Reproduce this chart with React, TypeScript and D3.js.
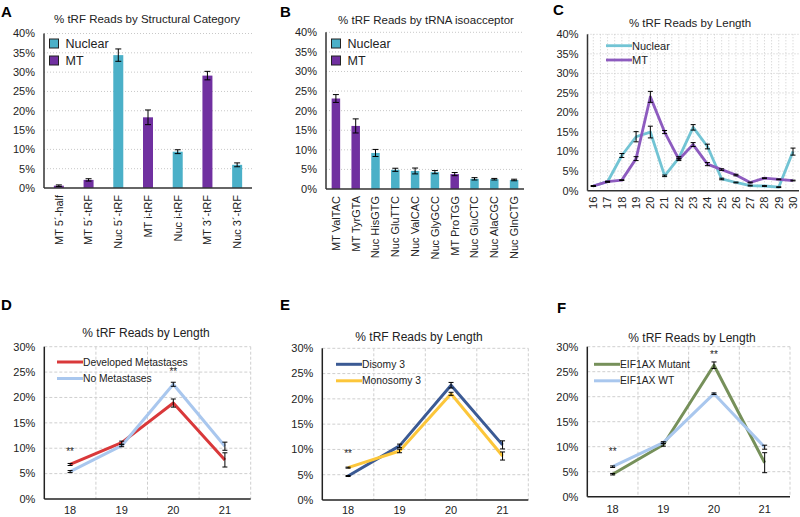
import React from "react";
import * as d3 from "d3";

// ---------- Data ----------
const catA = ["MT 5´-half", "MT 5´-tRF", "Nuc 5´-tRF", "MT i-tRF", "Nuc i-tRF", "MT 3´-tRF", "Nuc 3´-tRF"];
const typeA = ["MT", "MT", "Nuclear", "MT", "Nuclear", "MT", "Nuclear"];
const valA = [0.6, 2.1, 34.4, 18.3, 9.4, 29.1, 6.0];
const errA = [0.2, 0.3, 1.6, 1.9, 0.5, 1.1, 0.5];

const catB = ["MT ValTAC", "MT TyrGTA", "Nuc HisGTG", "Nuc GluTTC", "Nuc ValCAC", "Nuc GlyGCC", "MT ProTGG", "Nuc GluCTC", "Nuc AlaCGC", "Nuc GlnCTG"];
const typeB = ["MT", "MT", "Nuclear", "Nuclear", "Nuclear", "Nuclear", "MT", "Nuclear", "Nuclear", "Nuclear"];
const valB = [23.1, 16.1, 9.2, 4.9, 4.6, 4.3, 3.8, 2.6, 2.5, 2.3];
const errB = [1.0, 1.8, 0.9, 0.4, 0.75, 0.4, 0.4, 0.3, 0.2, 0.2];

const lenC = [16, 17, 18, 19, 20, 21, 22, 23, 24, 25, 26, 27, 28, 29, 30];
const nucC = [1.2, 2.3, 9.0, 13.8, 15.0, 3.8, 8.4, 16.2, 11.3, 3.0, 2.1, 1.3, 1.2, 0.9, 10.0];
const nucErrC = [0.1, 0.1, 0.5, 1.3, 1.5, 0.2, 0.3, 0.7, 0.6, 0.2, 0.1, 0.1, 0.1, 0.1, 0.9];
const mtC = [1.2, 2.3, 2.7, 8.2, 24.0, 15.0, 8.0, 11.8, 6.8, 5.4, 4.0, 2.1, 3.2, 2.9, 2.6];
const mtErrC = [0.1, 0.1, 0.1, 0.5, 1.4, 0.4, 0.3, 0.5, 0.4, 0.2, 0.2, 0.1, 0.1, 0.1, 0.1];

const lenDEF = [18, 19, 20, 21];
const metD = [6.8, 11.1, 18.9, 7.7];
const metErrD = [0.2, 0.3, 0.8, 1.4];
const noMetD = [5.4, 10.5, 22.6, 10.4];
const noMetErrD = [0.2, 0.2, 0.4, 0.8];

const disomyE = [4.75, 10.7, 22.7, 10.9];
const disomyErrE = [0.1, 0.35, 0.55, 0.8];
const monosomyE = [6.4, 9.7, 21.0, 8.7];
const monosomyErrE = [0.1, 0.35, 0.3, 0.8];

const mutantF = [4.5, 10.4, 26.3, 6.8];
const mutantErrF = [0.15, 0.3, 0.65, 2.0];
const wtF = [6.0, 10.8, 20.6, 9.9];
const wtErrF = [0.15, 0.2, 0.15, 0.4];

const ticks40 = [0, 5, 10, 15, 20, 25, 30, 35, 40];
const ticks30 = [0, 5, 10, 15, 20, 25, 30];

const FONT = "'Liberation Sans', Arial, sans-serif";
const NUC = "#4bb0c8";
const MT = "#7030a0";

const ErrBar = ({ x, lo, hi, cap = 3 }: any) => (
  <g stroke="#000" strokeWidth={1}>
    <line x1={x} x2={x} y1={lo} y2={hi} />
    <line x1={x - cap} x2={x + cap} y1={lo} y2={lo} />
    <line x1={x - cap} x2={x + cap} y1={hi} y2={hi} />
  </g>
);

function BarPanel({ letter, letterX, letterY, title, titleX, titleY, x0, x1, y0, yTop, cats, types, vals, errs, barW, legX, legY }: any) {
  const x = d3.scaleBand().domain(cats).range([x0, x1]);
  const y = d3.scaleLinear().domain([0, 40]).range([y0, yTop]);
  return (
    <g fontFamily={FONT}>
      <text x={letterX} y={letterY} fontSize={15} fontWeight="bold">{letter}</text>
      <text x={titleX} y={titleY} fontSize={11.5} textAnchor="middle" fill="#222">{title}</text>
      {ticks40.map((t) => (
        <g key={t}>
          {t > 0 && <line x1={x0} x2={x1} y1={y(t)} y2={y(t)} stroke="#c8c8c8" strokeDasharray="1,2" />}
          <text x={x0 - 9} y={y(t)} dy="0.35em" fontSize={11} textAnchor="end" fill="#222">{t}%</text>
        </g>
      ))}
      {cats.map((c: string, i: number) => {
        const cx = (x(c) as number) + x.bandwidth() / 2;
        return (
          <g key={c}>
            <rect x={cx - barW / 2} width={barW} y={y(vals[i])} height={y0 - y(vals[i])} fill={types[i] === "MT" ? MT : NUC} />
            <ErrBar x={cx} lo={y(vals[i] - errs[i])} hi={y(vals[i] + errs[i])} cap={3} />
            <text transform={`translate(${cx},${y0 + 7}) rotate(-90)`} dy="0.35em" fontSize={11} textAnchor="end" fill="#222">{c}</text>
          </g>
        );
      })}
      <line x1={x0} x2={x0} y1={yTop} y2={y0} stroke="#333" strokeWidth={1.5} />
      <line x1={x0} x2={x1} y1={y0} y2={y0} stroke="#333" strokeWidth={1.5} />
      {["Nuclear", "MT"].map((s, i) => (
        <g key={s}>
          <rect x={legX} y={legY + i * 17} width={9} height={9} fill={s === "MT" ? MT : NUC} stroke="#222" strokeWidth={1} />
          <text x={legX + 16} y={legY + i * 17 + 4.5} dy="0.35em" fontSize={12.5} fill="#222">{s}</text>
        </g>
      ))}
    </g>
  );
}

function PanelC() {
  const x0 = 587.5, x1 = 799, y0 = 190.7, yTop = 34.3;
  const x = d3.scalePoint<number>().domain(lenC).range([593.3, 793]);
  const y = d3.scaleLinear().domain([0, 40]).range([y0, yTop]);
  const step = x.step();
  const line = d3.line<number>().x((_, i) => x(lenC[i]) as number).y((v) => y(v));
  const vgrid: number[] = [];
  for (let p = (x(16) as number); p <= x1; p += step / 2) if (p > x0 + 1) vgrid.push(p);
  const series = [
    { name: "Nuclear", vals: nucC, errs: nucErrC, color: "#72c4d4" },
    { name: "MT", vals: mtC, errs: mtErrC, color: "#8d5bbf" },
  ];
  return (
    <g fontFamily={FONT}>
      <text x={553} y={15} fontSize={15} fontWeight="bold">C</text>
      <text x={690} y={27} fontSize={11.5} textAnchor="middle" fill="#222">% tRF Reads by Length</text>
      {vgrid.map((p, i) => (
        <line key={i} x1={p} x2={p} y1={yTop} y2={y0} stroke="#cccccc" strokeDasharray="1,2" />
      ))}
      {ticks40.map((t) => (
        <g key={t}>
          {t > 0 && <line x1={x0} x2={x1} y1={y(t)} y2={y(t)} stroke="#c8c8c8" strokeDasharray="1,2" />}
          <text x={x0 - 9} y={y(t)} dy="0.35em" fontSize={11} textAnchor="end" fill="#222">{t}%</text>
        </g>
      ))}
      {series.map((s) => (
        <path key={s.name} d={line(s.vals) as string} fill="none" stroke={s.color} strokeWidth={2.8} strokeLinejoin="round" />
      ))}
      {series.map((s) =>
        s.vals.map((v, i) => (
          <ErrBar key={s.name + i} x={x(lenC[i])} lo={y(v - s.errs[i])} hi={y(v + s.errs[i])} cap={2.5} />
        ))
      )}
      {lenC.map((l) => (
        <text key={l} transform={`translate(${x(l)},${y0 + 6}) rotate(-90)`} dy="0.35em" fontSize={11} textAnchor="end" fill="#222">{l}</text>
      ))}
      <line x1={x0} x2={x0} y1={yTop} y2={y0} stroke="#333" strokeWidth={1.5} />
      <line x1={x0} x2={x1} y1={y0} y2={y0} stroke="#333" strokeWidth={1.5} />
      {series.map((s, i) => (
        <g key={s.name}>
          <line x1={606} x2={632} y1={45.7 + i * 14.3} y2={45.7 + i * 14.3} stroke={s.color} strokeWidth={2.8} />
          <text x={632} y={45.7 + i * 14.3} dy="0.35em" fontSize={11} fill="#222">{s.name}</text>
        </g>
      ))}
    </g>
  );
}

function LinePanel({ letter, letterX, letterY, titleX, titleY, x0, x1, y0, yTop, series, stars, legX, legY, labelY }: any) {
  const x = d3.scaleBand<number>().domain(lenDEF).range([x0, x1]);
  const y = d3.scaleLinear().domain([0, 30]).range([y0, yTop]);
  const cx = (l: number) => (x(l) as number) + x.bandwidth() / 2;
  const line = d3.line<number>().x((_, i) => cx(lenDEF[i])).y((v) => y(v));
  return (
    <g fontFamily={FONT}>
      <text x={letterX} y={letterY} fontSize={15} fontWeight="bold">{letter}</text>
      <text x={titleX} y={titleY} fontSize={12} textAnchor="middle" fill="#222">% tRF Reads by Length</text>
      {lenDEF.map((l) => (
        <line key={l} x1={(x(l) as number) + x.bandwidth()} x2={(x(l) as number) + x.bandwidth()} y1={yTop} y2={y0} stroke="#cfcfcf" strokeDasharray="3,2" />
      ))}
      {ticks30.map((t) => (
        <g key={t}>
          {t > 0 && <line x1={x0} x2={x1} y1={y(t)} y2={y(t)} stroke="#cfcfcf" strokeDasharray="3,2" />}
          <text x={x0 - 9} y={y(t)} dy="0.35em" fontSize={11} textAnchor="end" fill="#222">{t}%</text>
        </g>
      ))}
      {series.map((s: any) => (
        <path key={s.name} d={line(s.vals) as string} fill="none" stroke={s.color} strokeWidth={3} strokeLinejoin="round" />
      ))}
      {series.map((s: any) =>
        s.vals.map((v: number, i: number) => (
          <ErrBar key={s.name + i} x={cx(lenDEF[i])} lo={y(v - s.errs[i])} hi={y(v + s.errs[i])} cap={2.5} />
        ))
      )}
      {stars.map((st: any, i: number) => (
        <text key={i} x={cx(st.len)} y={y(st.at)} fontSize={10} textAnchor="middle" fill="#222">**</text>
      ))}
      {lenDEF.map((l) => (
        <text key={l} x={cx(l)} y={labelY} fontSize={11} textAnchor="middle" fill="#222">{l}</text>
      ))}
      <line x1={x0} x2={x0} y1={yTop} y2={y0} stroke="#222" strokeWidth={1.5} />
      <line x1={x0} x2={x1} y1={y0} y2={y0} stroke="#222" strokeWidth={1.5} />
      {series.map((s: any, i: number) => (
        <g key={s.name}>
          <line x1={legX} x2={legX + 26} y1={legY + i * 16.5} y2={legY + i * 16.5} stroke={s.color} strokeWidth={3} />
          <text x={legX + 26} y={legY + i * 16.5} dy="0.35em" fontSize={10.3} fill="#222">{s.name}</text>
        </g>
      ))}
    </g>
  );
}

export default function App() {
  return (
    <svg width={800} height={517} style={{ position: "absolute", left: 0, top: 0, background: "#fff" }}>
      <rect width={800} height={517} fill="#fff" />
      <BarPanel letter="A" letterX={1} letterY={17} title="% tRF Reads by Structural Category" titleX={147} titleY={23}
        x0={44} x1={252} y0={188} yTop={33.5} cats={catA} types={typeA} vals={valA} errs={errA} barW={10} legX={49.5} legY={39} />
      <BarPanel letter="B" letterX={280} letterY={17} title="% tRF Reads by tRNA isoacceptor" titleX={426} titleY={23.5}
        x0={326} x1={524} y0={189} yTop={32.3} cats={catB} types={typeB} vals={valB} errs={errB} barW={8.5} legX={331.5} legY={39} />
      <PanelC />
      <LinePanel letter="D" letterX={1} letterY={310} titleX={146} titleY={337}
        x0={44.3} x1={250.7} y0={499} yTop={346.7} labelY={514}
        series={[
          { name: "Developed Metastases", vals: metD, errs: metErrD, color: "#d9383a" },
          { name: "No Metastases", vals: noMetD, errs: noMetErrD, color: "#a9c7ee" },
        ]}
        stars={[{ len: 18, at: 8.6 }, { len: 20, at: 24.4 }]} legX={57} legY={362} />
      <LinePanel letter="E" letterX={280} letterY={310} titleX={419} titleY={341}
        x0={322.3} x1={528.3} y0={500} yTop={348.3} labelY={514}
        series={[
          { name: "Disomy 3", vals: disomyE, errs: disomyErrE, color: "#3b5a94" },
          { name: "Monosomy 3", vals: monosomyE, errs: monosomyErrE, color: "#fcc63a" },
        ]}
        stars={[{ len: 18, at: 8.6 }]} legX={336} legY={364.3} />
      <LinePanel letter="F" letterX={557} letterY={313} titleX={692} titleY={342}
        x0={587.3} x1={790} y0={496.7} yTop={346.7} labelY={513}
        series={[
          { name: "EIF1AX Mutant", vals: mutantF, errs: mutantErrF, color: "#76905a" },
          { name: "EIF1AX WT", vals: wtF, errs: wtErrF, color: "#a9c7ee" },
        ]}
        stars={[{ len: 18, at: 8.4 }, { len: 20, at: 27.8 }]} legX={594} legY={364.3} />
    </svg>
  );
}
